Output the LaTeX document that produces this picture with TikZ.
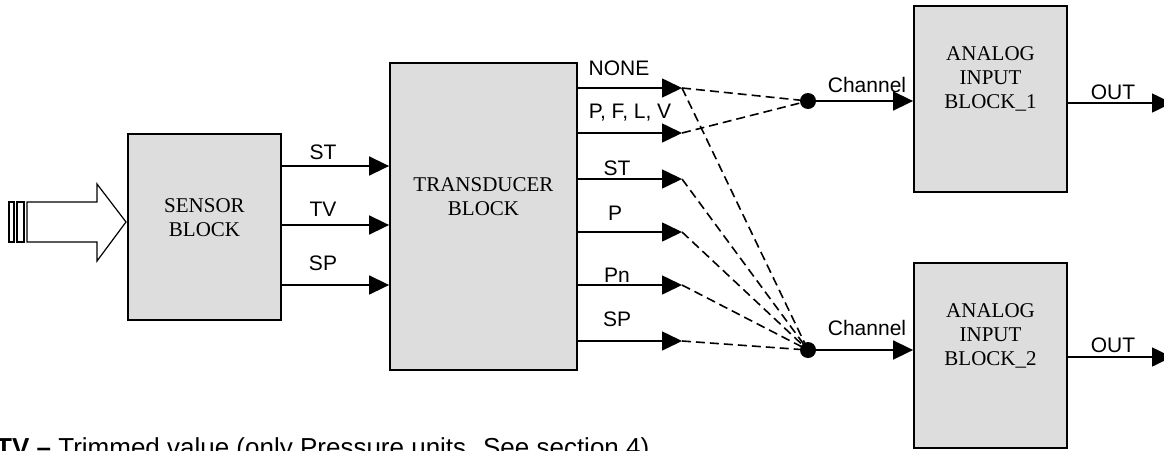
\documentclass[tikz,border=0pt]{standalone}
\usepackage{fontspec}
\setmainfont{Liberation Serif}
\setsansfont{Liberation Sans}
\usetikzlibrary{arrows.meta}

\tikzset{
  block/.style={draw, line width=1.8pt, fill=gray!27, inner sep=0pt},
  blocktext/.style={align=center, font=\fontsize{21}{24}\selectfont},
  sig/.style={line width=1.6pt, -{Triangle[length=20pt, width=19pt]}},
  link/.style={line width=1.6pt, dash pattern=on 9pt off 5pt},
  lbl/.style={font=\sffamily\fontsize{21}{24}\selectfont, inner sep=0pt},
  dot/.style={circle, fill, inner sep=0pt, minimum size=16pt}
}

\begin{document}
\begin{tikzpicture}[x=1pt, y=-1pt]

\useasboundingbox (0,0) rectangle (1164,450);

% Blocks
\node[block, minimum width=153pt, minimum height=186pt] (sensor) at (204.5,227) {};
\node[blocktext] (sensortxt) at ([yshift=9pt]sensor.center) {SENSOR\\BLOCK};

\node[block, minimum width=187pt, minimum height=307pt] (trans) at (483.5,216.5) {};
\node[blocktext] (transtxt) at ([yshift=20pt]trans.center) {TRANSDUCER\\BLOCK};

\node[block, minimum width=153pt, minimum height=186pt] (ai1) at (990.5,99) {};
\node[blocktext] (ai1txt) at ([yshift=20pt]ai1.center) {ANALOG\\INPUT\\BLOCK\_1};

\node[block, minimum width=153pt, minimum height=185pt] (ai2) at (990.5,355.5) {};
\node[blocktext] (ai2txt) at ([yshift=20pt]ai2.center) {ANALOG\\INPUT\\BLOCK\_2};

% Input arrow into the sensor
\draw[line width=1.2pt] (27,202) -- (97,202) -- (97,184) -- (126,222)
  -- (97,261) -- (97,242) -- (27,242) -- cycle;
\draw[line width=1.2pt] (9,202) rectangle (14,242);
\draw[line width=1.2pt] (17,202) rectangle (24,242);

% Sensor to transducer
\foreach \name/\y/\ly in {ST/166/152, TV/225/209, SP/285/263} {
  \draw[sig] (sensor.east |- 0,\y) -- (trans.west |- 0,\y);
  \node[lbl] (s\name) at (323,\ly) {\name};
}

% Transducer outputs
\foreach \i/\name/\y/\lx/\ly in {1/NONE/88/619/68, 2/{P, F, L, V}/133/630/113,
                                 3/ST/179/617/168, 4/P/232/615/213,
                                 5/Pn/285/617/275, 6/SP/341/617/319} {
  \coordinate (t\i) at (682,\y);
  \draw[sig] (trans.east |- t\i) -- (t\i);
  \node[lbl] (tl\i) at (\lx,\ly) {\name};
}

% Channel selection
\node[dot] (j1) at (808,101) {};
\node[dot] (j2) at (808,350) {};

\draw[link] (t1) -- (j1.center);
\draw[link] (t2) -- (j1.center);
\foreach \i in {1,3,4,5,6}
  \draw[link] (t\i) -- (j2.center);

\draw[sig] (j1.center) -- (j1 -| ai1.west);
\node[lbl] (ch1) at (867,85) {Channel};
\draw[sig] (j2.center) -- (j2 -| ai2.west);
\node[lbl] (ch2) at (867,328) {Channel};

% Outputs
\coordinate (o1) at (1172,103);
\coordinate (o2) at (1172,357);
\draw[sig] (ai1.east |- o1) -- (o1);
\node[lbl] (out1) at (1113,92) {OUT};
\draw[sig] (ai2.east |- o2) -- (o2);
\node[lbl] (out2) at (1113,345) {OUT};

% Note
\node[lbl, font=\sffamily\fontsize{26}{30}\selectfont, anchor=base west] (note) at (-4,456)
  {\textbf{TV –} Trimmed value (only Pressure units. See section 4)};

\end{tikzpicture}
\end{document}
